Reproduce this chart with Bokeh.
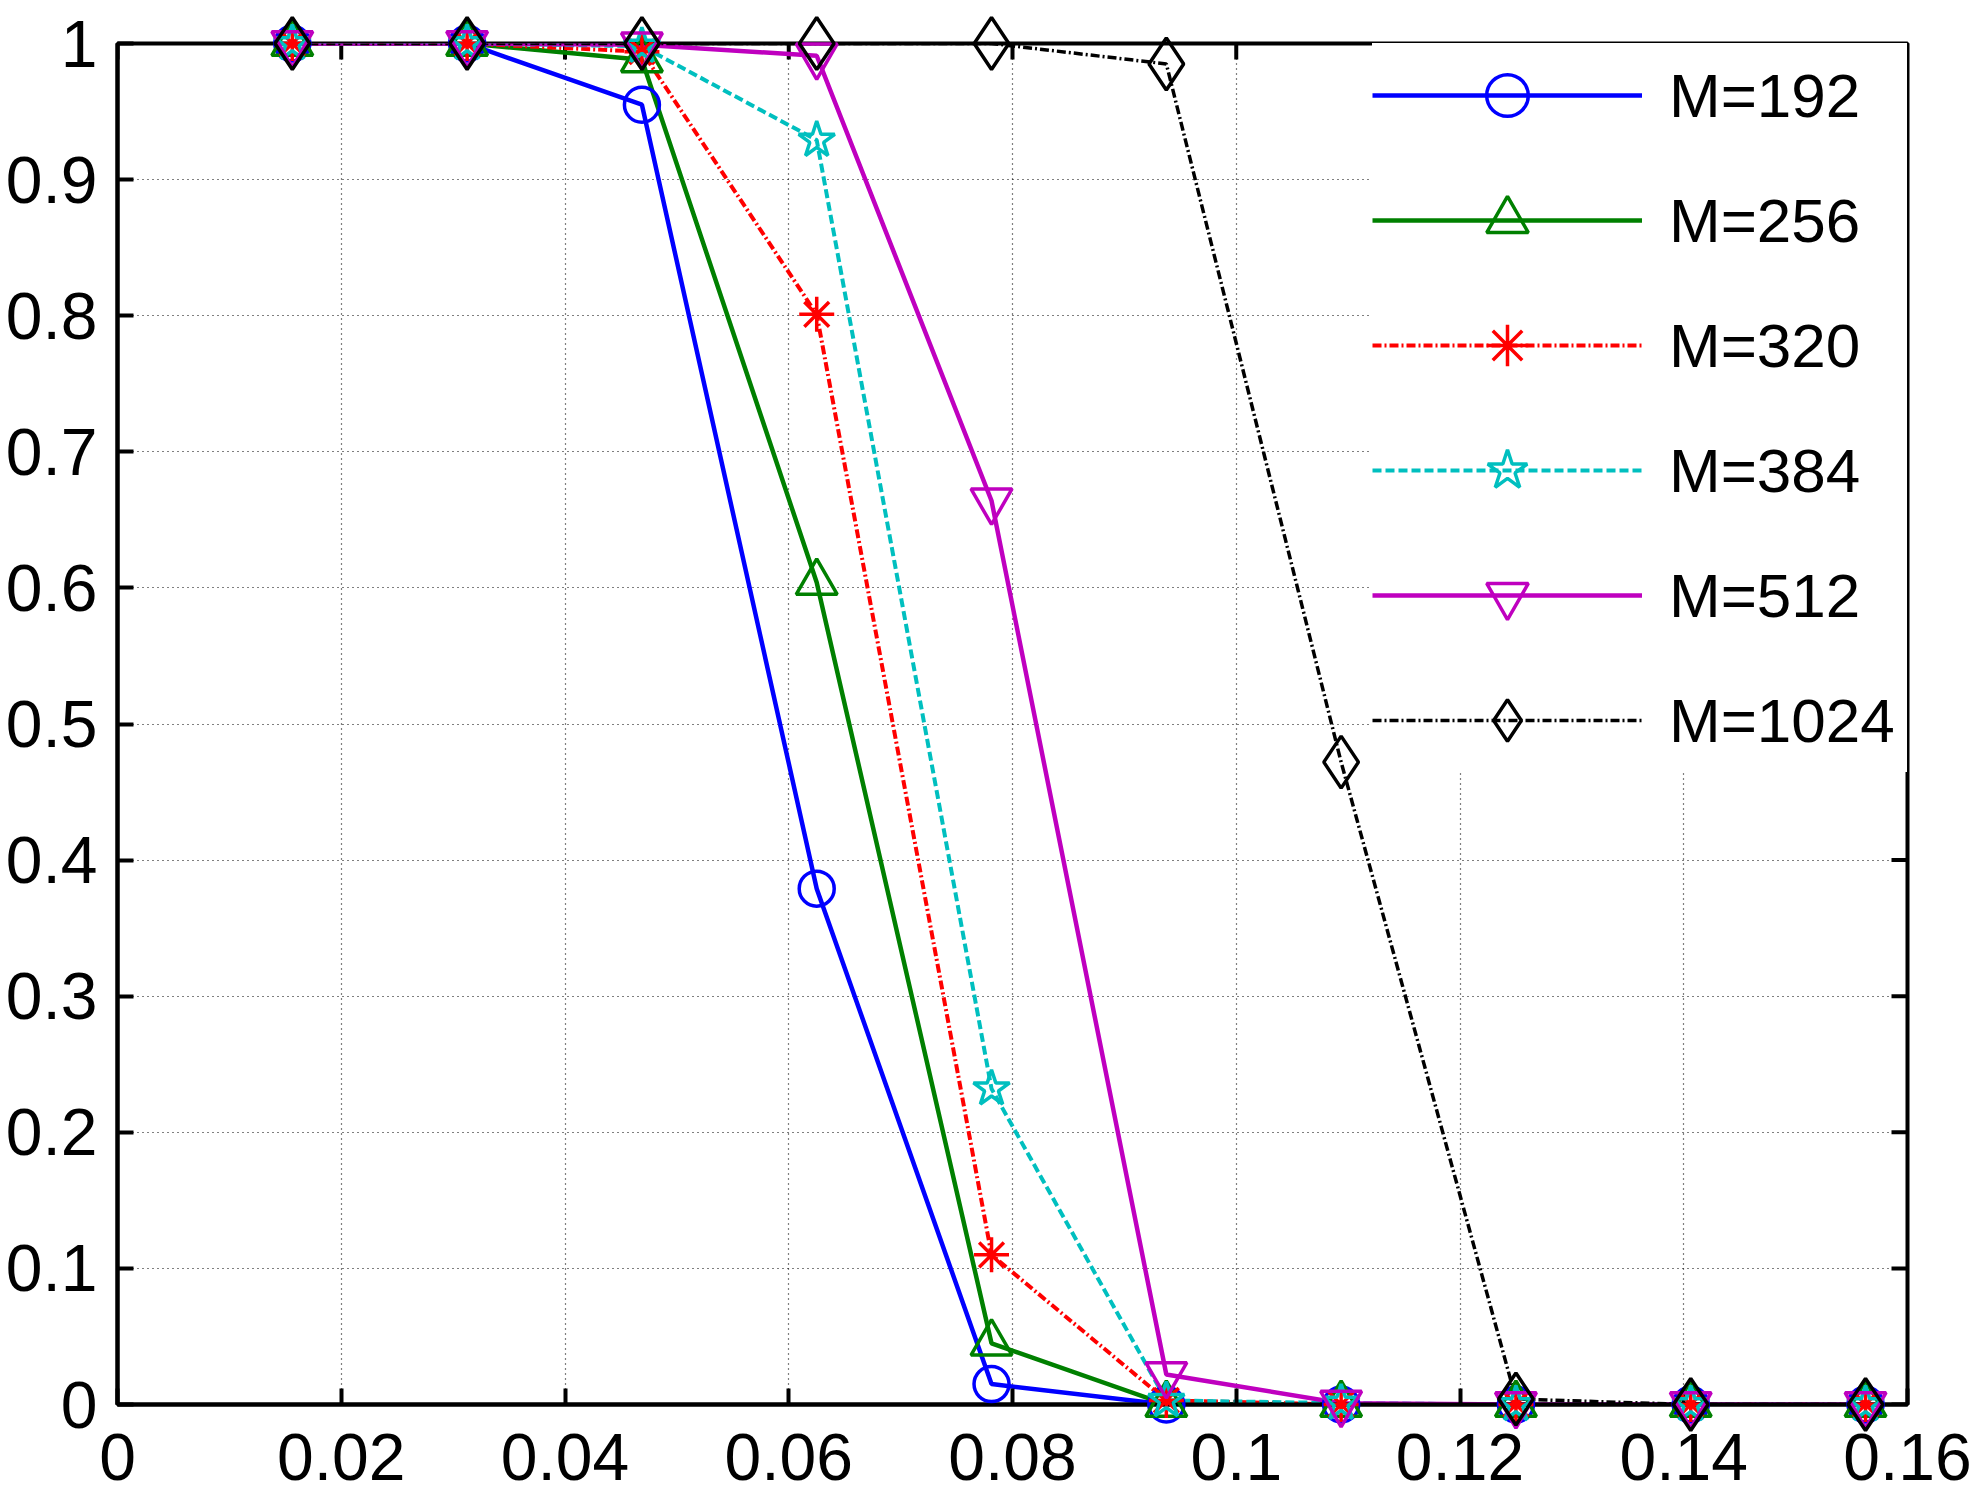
import math
from bokeh.plotting import figure
from bokeh.models import Range1d, FixedTicker, Legend, LegendItem
from bokeh.embed import file_html
from bokeh.resources import INLINE

# ---- data ----
x_values = [0.015625, 0.03125, 0.046875, 0.0625, 0.078125,
            0.09375, 0.109375, 0.125, 0.140625, 0.15625]
m192 = [1.0, 1.0, 0.955, 0.379, 0.015, 0.0, 0.0, 0.0, 0.0, 0.0]
m256 = [1.0, 1.0, 0.988, 0.604, 0.045, 0.0, 0.0, 0.0, 0.0, 0.0]
m320 = [1.0, 1.0, 0.994, 0.801, 0.110, 0.003, 0.0, 0.0, 0.0, 0.0]
m384 = [1.0, 1.0, 0.998, 0.929, 0.232, 0.003, 0.001, 0.0, 0.0, 0.0]
m512 = [1.0, 1.0, 0.999, 0.991, 0.664, 0.022, 0.001, 0.0, 0.0, 0.0]
m1024 = [1.0, 1.0, 1.0, 1.0, 1.0, 0.985, 0.472, 0.004, 0.0, 0.0]
series_labels = ["M=192", "M=256", "M=320", "M=384", "M=512", "M=1024"]
series_values = [m192, m256, m320, m384, m512, m1024]

x_ticks = [0.0, 0.02, 0.04, 0.06, 0.08, 0.1, 0.12, 0.14, 0.16]
x_tick_labels = ["0", "0.02", "0.04", "0.06", "0.08", "0.1", "0.12", "0.14", "0.16"]
y_ticks = [0.0, 0.1, 0.2, 0.3, 0.4, 0.5, 0.6, 0.7, 0.8, 0.9, 1.0]
y_tick_labels = ["0", "0.1", "0.2", "0.3", "0.4", "0.5", "0.6", "0.7", "0.8", "0.9", "1"]
x_min, x_max = 0.0, 0.16
y_min, y_max = 0.0, 1.0

# ---- styles ----
colors = ["#0000FF", "#008000", "#FF0000", "#00BFBF", "#BF00BF", "#000000"]
dashes = ["solid", "solid", "9 3 2 3", "9 4", "solid", "9 3 2 3"]
line_widths = [4.5, 4.5, 4, 4, 4.5, 3.5]
markers = ["circle", "triangle", "asterisk", "star", "inverted_triangle", "diamond"]
marker_sizes = [35, 41, 35, 38, 41, 52]

FONT = "Liberation Sans"
TICK = 16

p = figure(width=1975, height=1499, output_backend="svg", toolbar_location=None,
           x_range=Range1d(x_min, x_max), y_range=Range1d(y_min, y_max),
           min_border_left=117, min_border_right=68,
           min_border_top=43, min_border_bottom=95)
p.outline_line_color = "black"
p.outline_line_width = 4
p.background_fill_color = "white"

for ax, ticks, labels in ((p.xaxis[0], x_ticks, x_tick_labels),
                          (p.yaxis[0], y_ticks, y_tick_labels)):
    ax.ticker = FixedTicker(ticks=ticks)
    ax.major_label_overrides = {t: l for t, l in zip(ticks, labels)}
    ax.axis_line_color = "black"
    ax.axis_line_width = 4
    ax.major_tick_line_color = "black"
    ax.major_tick_line_width = 4
    ax.major_tick_in = TICK
    ax.major_tick_out = 0
    ax.minor_tick_in = 0
    ax.minor_tick_out = 0
    ax.minor_tick_line_color = None
    ax.major_label_text_font = FONT
    ax.major_label_text_font_size = "66px"
    ax.major_label_text_color = "black"
p.xaxis[0].major_label_standoff = 29
p.yaxis[0].major_label_standoff = 20

for g, t in ((p.xgrid[0], x_ticks), (p.ygrid[0], y_ticks)):
    g.ticker = FixedTicker(ticks=t)
    g.grid_line_color = "black"
    g.grid_line_width = 1.2
    g.grid_line_dash = "1 4"
    g.grid_line_alpha = 1.0

# inside ticks on the top and right sides of the box (half of each mark is
# clipped away by the frame)
p.scatter(x=x_ticks, y=[y_max] * len(x_ticks), marker="dash", angle=math.pi / 2,
          size=2 * TICK, line_color="black", line_width=4)
p.scatter(x=[x_max] * len(y_ticks), y=y_ticks, marker="dash",
          size=2 * TICK, line_color="black", line_width=4)

items = []
for lab, vals, c, d, lw, m, s in zip(series_labels, series_values, colors, dashes,
                                     line_widths, markers, marker_sizes):
    rl = p.line(x_values, vals, line_color=c, line_width=lw, line_dash=d)
    rs = p.scatter(x_values, vals, marker=m, size=s, line_color=c, line_width=3.5,
                   fill_color=None, level="overlay")
    items.append(LegendItem(label=lab, renderers=[rl, rs]))

legend = Legend(items=items, location="top_right", margin=0, padding=5,
                spacing=21, glyph_width=270, glyph_height=104, label_standoff=27,
                label_width=238,
                label_text_font=FONT, label_text_font_size="62px",
                label_text_color="black", border_line_color=None,
                background_fill_color="white", background_fill_alpha=1.0,
                level="underlay")
p.add_layout(legend)

open("out.html", "w").write(file_html(p, INLINE))
